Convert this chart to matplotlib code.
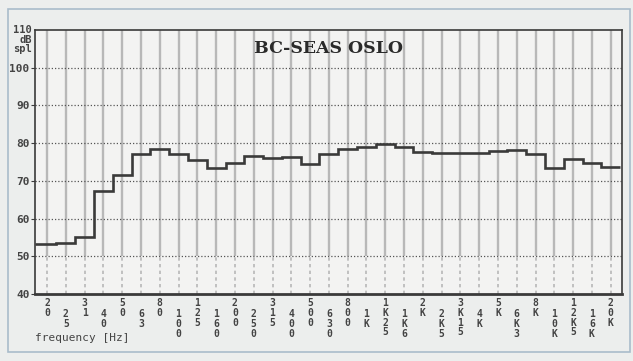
import numpy as np
import matplotlib.pyplot as plt
from matplotlib.patches import Rectangle

# 1/3 octave bands, 20 Hz .. 20 kHz
bands = ["20", "25", "31", "40", "50", "63", "80", "100", "125", "160",
         "200", "250", "315", "400", "500", "630", "800", "1K", "1K25", "1K6",
         "2K", "2K5", "3K15", "4K", "5K", "6K3", "8K", "10K", "12K5", "16K", "20K"]
level_db = [53.3, 53.6, 55.2, 67.2, 71.6, 77.0, 78.4, 77.2, 75.4, 73.5,
            74.8, 76.7, 76.1, 76.3, 74.5, 77.0, 78.4, 79.1, 79.7, 78.9,
            77.6, 77.4, 77.4, 77.4, 77.8, 78.1, 77.2, 73.5, 75.8, 74.8, 73.7]
y_ticks = [40, 50, 60, 70, 80, 90, 100]

ink = "#3a3a3a"
grid_gray = "#b8b8b8"

fig = plt.figure(figsize=(6.33, 3.61), dpi=100)
fig.patch.set_facecolor("#eceeed")
ax = fig.add_axes([35 / 633, 67 / 361, 587 / 633, 264 / 361])
ax.set_facecolor("#f3f3f2")

x = np.arange(len(bands))
xlo, xhi = -0.64, 30.6
ax.set_xlim(xlo, xhi)
ax.set_ylim(40, 110)

# grid
ax.vlines(x, 50, 110, color=grid_gray, lw=1.7, zorder=1)
ax.vlines(x, 40, 50, color=grid_gray, lw=1.2, linestyles=(0, (2, 2)), zorder=1)
ax.hlines(y_ticks[1:], xlo, xhi, color="#555555", lw=0.9,
          linestyles=(0, (1, 1.6)), zorder=2)

# response
edges = np.arange(len(bands) + 1) - 0.5
edges[0] = xlo
ax.stairs(level_db, edges, baseline=None, color=ink, lw=1.9, zorder=3)

# frame
for s in ["left", "top", "right"]:
    ax.spines[s].set_color(ink)
    ax.spines[s].set_linewidth(1.2)
ax.spines["bottom"].set_color(ink)
ax.spines["bottom"].set_linewidth(2.0)

ax.set_xticks([])
ax.set_yticks(y_ticks)
ax.set_yticklabels([str(v) for v in y_ticks], family="DejaVu Sans Mono",
                   fontsize=8, fontweight="bold", color="#444444")
ax.tick_params(axis="y", length=3, width=0.8, color=ink, pad=1)

ax.text(-0.005, 1.018, "110\ndB\nspl", transform=ax.transAxes, ha="right", va="top",
        family="DejaVu Sans Mono", fontsize=7.5, fontweight="bold", color="#444444",
        linespacing=0.95)

# staggered, vertically stacked band labels
for i, lab in enumerate(bands):
    ypos = -0.015 if i % 2 == 0 else -0.057
    ax.text(i, ypos, "\n".join(lab), transform=ax.get_xaxis_transform(),
            ha="center", va="top", family="DejaVu Sans Mono", fontsize=7,
            fontweight="bold", color="#444444", linespacing=0.98)

ax.text(0.5, 0.93, "BC-SEAS OSLO", transform=ax.transAxes, ha="center", va="center",
        family="DejaVu Serif", fontsize=12.5, fontweight="bold", color="#2a2a2a")

fig.text(35 / 633, 1 - 338 / 361, "frequency [Hz]", ha="left", va="center",
         family="DejaVu Sans Mono", fontsize=8, color="#444444")

# outer page frame
fig.patches.append(Rectangle((8 / 633, 9 / 361), 622 / 633, 343 / 361,
                             transform=fig.transFigure, fill=False,
                             edgecolor="#a9bccb", lw=1.2))

fig.savefig("out.png", dpi=100, facecolor=fig.get_facecolor())
